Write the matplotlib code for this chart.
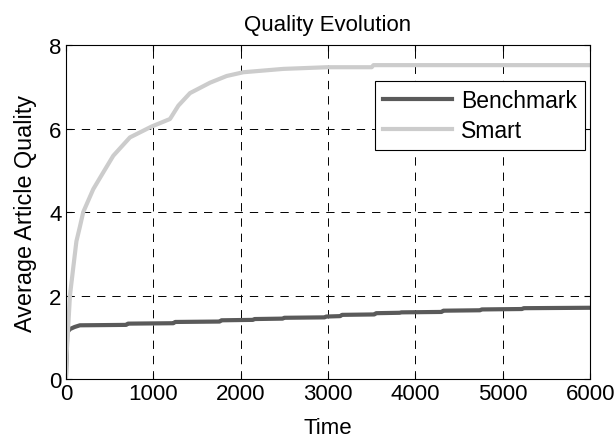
import matplotlib
matplotlib.use('Agg')
import matplotlib.pyplot as plt

plt.rcParams.update({'font.family': ['Liberation Sans', 'DejaVu Sans'],
                     'lines.scale_dashes': False})

# Smart policy: average article quality over time
smart_t = [0, 5, 25, 46, 80, 120, 160, 198, 313, 427, 542, 733, 981, 1191,
           1287, 1420, 1650, 1840, 2031, 2487, 2986, 3500, 3520, 6000]
smart_q = [0, 0.5, 1.2, 2.0, 2.6, 3.3, 3.65, 4.0, 4.55, 4.95, 5.35, 5.79, 6.05, 6.23,
           6.55, 6.85, 7.10, 7.26, 7.35, 7.43, 7.47, 7.47, 7.52, 7.52]

# Benchmark policy
bench_t = [0, 15, 46, 100, 160, 690, 710, 1230, 1250, 1760, 1780, 2140, 2160,
           2480, 2500, 2960, 2980, 3140, 3160, 3530, 3550, 3820, 3840, 4300,
           4320, 4740, 4760, 5220, 5240, 6000]
bench_q = [0, 1.12, 1.20, 1.25, 1.29, 1.30, 1.33, 1.34, 1.37, 1.38, 1.41, 1.42, 1.44,
           1.45, 1.47, 1.48, 1.50, 1.51, 1.54, 1.55, 1.58, 1.59, 1.60, 1.61,
           1.64, 1.65, 1.67, 1.68, 1.70, 1.71]

x_ticks = [0, 1000, 2000, 3000, 4000, 5000, 6000]
y_ticks = [0, 2, 4, 6, 8]

fig = plt.figure(figsize=(6.16, 4.39), dpi=100)
ax = fig.add_axes([0.107, 0.134, 0.851, 0.761])

ax.plot(bench_t, bench_q, color='#5a5a5a', lw=3, label='Benchmark')
ax.plot(smart_t, smart_q, color='#cccccc', lw=3, label='Smart')

ax.set_xlim(0, 6000)
ax.set_ylim(0, 8)
ax.set_xticks(x_ticks)
ax.set_yticks(y_ticks)
ax.tick_params(direction='in', length=4, width=0.8, top=True, right=True,
               labelsize=16, pad=3)
ax.grid(True, color='black', lw=0.7, linestyle=(0, (6, 5)))
for s in ax.spines.values():
    s.set_linewidth(0.8)

ax.set_title('Quality Evolution', fontsize=16, pad=11)
ax.set_xlabel('Time', fontsize=16, labelpad=9)
ax.set_ylabel('Average Article Quality', fontsize=16.8, labelpad=9)

leg = ax.legend(loc='upper right', bbox_to_anchor=(0.99, 0.893), fontsize=16.5,
                fancybox=False, framealpha=1, edgecolor='black',
                handlelength=3.0, handletextpad=0.4, labelspacing=0.3,
                borderpad=0.35, borderaxespad=0)
leg.get_frame().set_linewidth(0.8)

fig.savefig('out.png', dpi=100)
